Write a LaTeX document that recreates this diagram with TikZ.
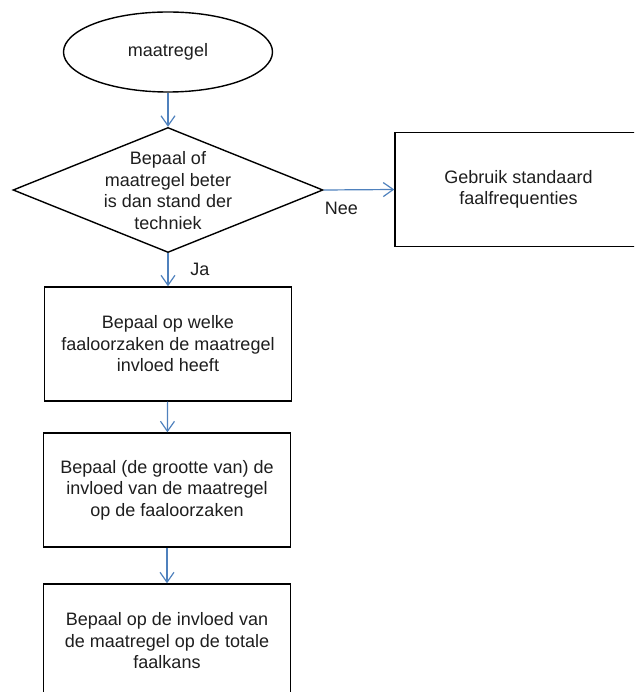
\documentclass[tikz,border=0pt]{standalone}
\usepackage{fontspec}
\setmainfont{Liberation Sans}
\usetikzlibrary{shapes.geometric,arrows.meta,positioning}

\definecolor{pijlblauw}{RGB}{79,129,189}
\definecolor{tekstgrijs}{RGB}{30,30,30}

\tikzset{
  tekst/.style={text=tekstgrijs, font=\fontsize{18pt}{21.5pt}\selectfont, align=center, inner sep=0.75pt},
  stap/.style={tekst, draw=black, line width=1.4pt, minimum width=247pt, minimum height=114pt},
  start/.style={tekst, ellipse, draw=black, line width=1.4pt, minimum width=209pt, minimum height=80pt, inner sep=0pt},
  keuzevorm/.style={diamond, draw=black, line width=1.4pt, minimum width=310pt, minimum height=125pt, inner sep=0pt},
  pijl/.style={draw=pijlblauw, line width=1.2pt, -{Straight Barb[length=10pt,width=14pt,line width=1.2pt]}}
}

\begin{document}
\begin{tikzpicture}[x=1pt,y=-1pt]
%set diagram to the page, two boxes run past it
\useasboundingbox (0,0) rectangle (634,692);
\clip (0,0) rectangle (634,692);

%Shape: Ellipse
\node[start] (maatregel) at (168,52) {maatregel};
%Shape: Diamond
\node[keuzevorm] (keuze) at (168,190) {};
% Text Node
\node[tekst] (keuzetekst) at (168,190.5) {Bepaal of\\maatregel beter\\is dan stand der\\techniek};
%Shape: Rectangle
\node[stap] (standaard) at (518.5,189.5) {Gebruik standaard\\faalfrequenties};
%Shape: Rectangle
\node[stap] (oorzaken) at (168,344) {Bepaal op welke\\faaloorzaken de maatregel\\invloed heeft};
%Shape: Rectangle
\node[stap] (grootte) at (167,490) {Bepaal (de grootte van) de\\invloed van de maatregel\\op de faaloorzaken};
%Shape: Rectangle
\node[stap] (faalkans) at (167,641) {Bepaal op de invloed van\\de maatregel op de totale\\faalkans};

%Straight Lines
\draw[pijl] (maatregel) -- (keuze);
\draw[pijl] (keuze.east) -- node[tekst, pos=0.25, yshift=-19pt] (nee) {Nee} (standaard.west);
\draw[pijl] (keuze.south) -- node[tekst, right=21pt] (ja) {Ja} (oorzaken);
\draw[pijl] (oorzaken) -- (grootte);
\draw[pijl] (grootte) -- (faalkans);

\end{tikzpicture}
\end{document}
